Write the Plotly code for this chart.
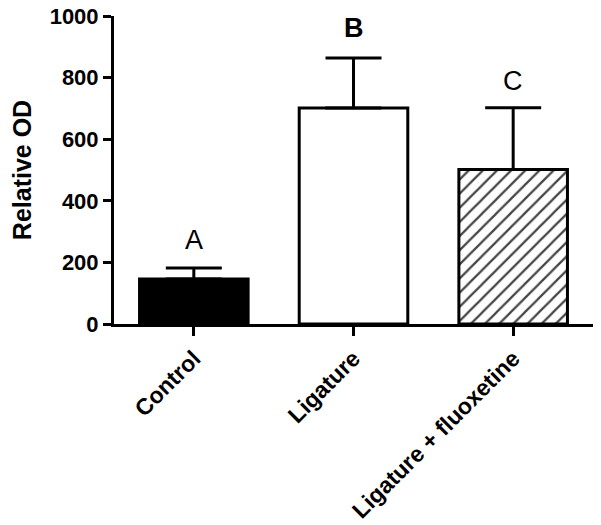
import plotly.graph_objects as go

groups = ["Control", "Ligature", "Ligature + fluoxetine"]
means = [146, 701, 502]
sem = [36, 163, 200]
letters = ["A", "<b>B</b>", "C"]
letter_y = [272, 960, 790]

FONT = "Liberation Sans, Arial, sans-serif"

fig = go.Figure()
fig.add_trace(go.Bar(
    x=groups, y=means, width=0.68,
    marker=dict(color=["black", "white", "white"],
                line=dict(color="black", width=3),
                pattern=dict(shape=["", "", "/"], fgcolor="black", bgcolor="white",
                             fgopacity=1, size=10, solidity=0.22, fillmode="overlay")),
    error_y=dict(type="data", symmetric=False, array=sem, arrayminus=[0, 0, 0],
                 color="black", thickness=3, width=28),
    showlegend=False,
))

for g, t, yy in zip(groups, letters, letter_y):
    fig.add_annotation(x=g, y=yy, text=t, showarrow=False,
                       font=dict(family=FONT, size=27, color="black"))

fig.update_layout(
    width=601, height=525, plot_bgcolor="white", paper_bgcolor="white",
    margin=dict(l=114, r=8, t=16, b=201),
    font=dict(family=FONT, color="black"),
)
fig.update_xaxes(range=[-0.5, 2.5], showline=True, linecolor="black", linewidth=3,
                 ticks="outside", ticklen=9, tickwidth=3, tickcolor="black",
                 tickangle=-45, tickfont=dict(size=23, family=FONT),
                 tickprefix="<b>", ticksuffix="</b>", showgrid=False, automargin=False)
fig.update_yaxes(range=[0, 1000], dtick=200, showline=True, linecolor="black", linewidth=3,
                 ticks="outside", ticklen=8, tickwidth=3, tickcolor="black",
                 tickfont=dict(size=22, family=FONT), tickprefix="<b>", ticksuffix="</b>",
                 ticklabeloverflow="allow", showgrid=False, zeroline=False, automargin=False,
                 title=dict(text="<b>Relative OD</b>", font=dict(size=25, family=FONT), standoff=11))

# drop the default page margin so the figure sits at the window's corner
fig.write_html("out.html", config={"displayModeBar": False},
               post_script="document.body.style.margin='0';")
